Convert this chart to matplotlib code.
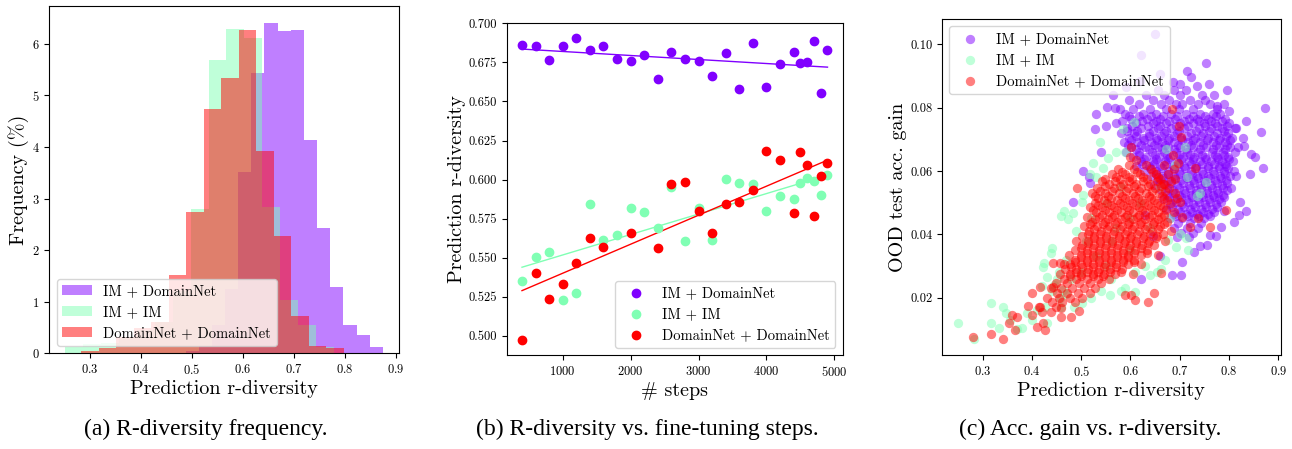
import numpy as np
import matplotlib.pyplot as plt

plt.rcParams['font.family'] = 'cmr10'
plt.rcParams['mathtext.fontset'] = 'cm'
plt.rcParams['axes.unicode_minus'] = False
plt.rcParams['axes.formatter.use_mathtext'] = True

C_IMDN = '#8000ff'
C_IMIM = '#80ffb4'
C_DNDN = '#ff0000'
labels = ['IM + DomainNet', 'IM + IM', 'DomainNet + DomainNet']

# (a) histograms, density per bin (15 bins each, own range)
hist_range_imdn = (0.487, 0.874)
hist_imdn = [0.05, 0.15, 0.55, 1.25, 3.52, 5.44, 6.41, 6.24, 6.26, 4.14, 2.43, 1.29, 0.55, 0.36, 0.12]
hist_range_imim = (0.251, 0.778)
hist_imim = [0.13, 0.19, 0.20, 0.30, 0.45, 0.61, 1.20, 2.80, 5.68, 6.28, 6.12, 2.83, 1.04, 0.55, 0.13]
hist_range_dndn = (0.283, 0.797)
hist_dndn = [0.05, 0.10, 0.32, 0.49, 0.61, 1.52, 2.74, 4.74, 5.33, 6.26, 3.92, 2.28, 0.72, 0.14, 0.10]

# (b) r-diversity vs fine-tuning steps
steps = [400, 600, 800, 1000, 1200, 1400, 1600, 1800, 2000, 2200, 2400, 2600, 2800,
         3000, 3200, 3400, 3600, 3800, 4000, 4200, 4400, 4500, 4600, 4700, 4800, 4900]
div_imdn = [0.6861, 0.6857, 0.6765, 0.6853, 0.6908, 0.6831, 0.6857, 0.6770, 0.6761, 0.6797,
            0.6646, 0.6814, 0.6774, 0.6759, 0.6665, 0.6810, 0.6580, 0.6876, 0.6595, 0.6738,
            0.6816, 0.6744, 0.6750, 0.6887, 0.6554, 0.6829]
div_imim = [0.5350, 0.5504, 0.5538, 0.5227, 0.5272, 0.5841, 0.5613, 0.5647, 0.5820, 0.5790,
            0.5690, 0.5950, 0.5609, 0.5818, 0.5613, 0.6006, 0.5976, 0.5971, 0.5796, 0.5897,
            0.5878, 0.5978, 0.6012, 0.5991, 0.5899, 0.6029]
steps_dndn = [400, 600, 800, 1000, 1200, 1400, 1600, 2000, 2400, 2600, 2800, 3000, 3200,
              3400, 3600, 3800, 4000, 4200, 4400, 4500, 4600, 4700, 4800, 4900]
div_dndn = [0.4971, 0.5402, 0.5237, 0.5331, 0.5468, 0.5624, 0.5570, 0.5660, 0.5560, 0.5973,
            0.5984, 0.5800, 0.5656, 0.5844, 0.5857, 0.5931, 0.6183, 0.6123, 0.5788, 0.6176,
            0.6090, 0.5767, 0.6023, 0.6106]

# (c) OOD accuracy gain vs r-diversity, (diversity, gain)
gain_imdn = [
    (0.650, 0.1033), (0.621, 0.0966), (0.753, 0.0942), (0.722, 0.0898), (0.687, 0.0880),
    (0.736, 0.0868), (0.796, 0.0856), (0.873, 0.0800), (0.775, 0.0805), (0.866, 0.0724),
    (0.835, 0.0759), (0.869, 0.0610), (0.853, 0.0645), (0.843, 0.0589), (0.822, 0.0503),
    (0.834, 0.0475), (0.820, 0.0460), (0.783, 0.0424), (0.761, 0.0398), (0.741, 0.0363),
    (0.755, 0.0366), (0.704, 0.0313), (0.685, 0.0273), (0.702, 0.0273), (0.621, 0.0260),
    (0.530, 0.0779), (0.553, 0.0803), (0.569, 0.0800), (0.528, 0.0732), (0.550, 0.0742),
    (0.541, 0.0661), (0.504, 0.0600), (0.516, 0.0582), (0.517, 0.0561), (0.484, 0.0501),
    (0.565, 0.0840), (0.590, 0.0865), (0.620, 0.0885), (0.660, 0.0905), (0.700, 0.0875),
    (0.715, 0.0915), (0.760, 0.0875), (0.800, 0.0790), (0.815, 0.0735), (0.830, 0.0680),
    (0.845, 0.0655), (0.815, 0.0585), (0.805, 0.0545), (0.790, 0.0475), (0.810, 0.0440),
    (0.774, 0.0395), (0.730, 0.0345), (0.660, 0.0330), (0.645, 0.0395), (0.630, 0.0460),
    (0.655, 0.0855), (0.688, 0.0855), (0.712, 0.0855),
    (0.632, 0.0840), (0.668, 0.0840), (0.700, 0.0840), (0.745, 0.0840), (0.770, 0.0840),
    (0.598, 0.0825), (0.645, 0.0825), (0.678, 0.0825), (0.721, 0.0825), (0.752, 0.0825),
    (0.618, 0.0810), (0.662, 0.0810), (0.693, 0.0810), (0.705, 0.0810), (0.738, 0.0810),
    (0.761, 0.0810), (0.790, 0.0810),
    (0.578, 0.0795), (0.606, 0.0795), (0.640, 0.0795), (0.672, 0.0795), (0.699, 0.0795),
    (0.728, 0.0795), (0.776, 0.0795),
    (0.589, 0.0780), (0.625, 0.0780), (0.651, 0.0780), (0.683, 0.0780), (0.713, 0.0780),
    (0.742, 0.0780), (0.768, 0.0780), (0.782, 0.0780),
    (0.602, 0.0765), (0.633, 0.0765), (0.661, 0.0765), (0.690, 0.0765), (0.719, 0.0765),
    (0.735, 0.0765), (0.757, 0.0765), (0.792, 0.0765),
    (0.570, 0.0750), (0.612, 0.0750), (0.645, 0.0750), (0.672, 0.0750), (0.701, 0.0750),
    (0.728, 0.0750), (0.750, 0.0750), (0.772, 0.0750), (0.800, 0.0750),
    (0.594, 0.0735), (0.622, 0.0735), (0.655, 0.0735), (0.683, 0.0735), (0.709, 0.0735),
    (0.740, 0.0735), (0.763, 0.0735), (0.786, 0.0735), (0.812, 0.0735),
    (0.581, 0.0720), (0.607, 0.0720), (0.638, 0.0720), (0.668, 0.0720), (0.694, 0.0720),
    (0.722, 0.0720), (0.748, 0.0720), (0.776, 0.0720), (0.798, 0.0720),
    (0.598, 0.0705), (0.626, 0.0705), (0.651, 0.0705), (0.679, 0.0705), (0.703, 0.0705),
    (0.731, 0.0705), (0.757, 0.0705), (0.781, 0.0705), (0.806, 0.0705), (0.828, 0.0705),
    (0.586, 0.0690), (0.614, 0.0690), (0.642, 0.0690), (0.664, 0.0690), (0.689, 0.0690),
    (0.716, 0.0690), (0.742, 0.0690), (0.768, 0.0690), (0.791, 0.0690),
    (0.602, 0.0675), (0.630, 0.0675), (0.655, 0.0675), (0.677, 0.0675), (0.701, 0.0675),
    (0.726, 0.0675), (0.753, 0.0675), (0.779, 0.0675), (0.803, 0.0675), (0.819, 0.0675),
    (0.590, 0.0660), (0.618, 0.0660), (0.643, 0.0660), (0.668, 0.0660), (0.693, 0.0660),
    (0.714, 0.0660), (0.738, 0.0660), (0.765, 0.0660), (0.788, 0.0660), (0.812, 0.0660),
    (0.606, 0.0645), (0.631, 0.0645), (0.657, 0.0645), (0.681, 0.0645), (0.706, 0.0645),
    (0.729, 0.0645), (0.752, 0.0645), (0.776, 0.0645), (0.799, 0.0645),
    (0.622, 0.0630), (0.646, 0.0630), (0.671, 0.0630), (0.695, 0.0630), (0.718, 0.0630),
    (0.741, 0.0630), (0.764, 0.0630), (0.786, 0.0630), (0.808, 0.0630),
    (0.612, 0.0615), (0.637, 0.0615), (0.661, 0.0615), (0.686, 0.0615), (0.709, 0.0615),
    (0.733, 0.0615), (0.757, 0.0615), (0.779, 0.0615), (0.795, 0.0615),
    (0.628, 0.0600), (0.652, 0.0600), (0.676, 0.0600), (0.699, 0.0600), (0.722, 0.0600),
    (0.746, 0.0600), (0.768, 0.0600), (0.789, 0.0600), (0.810, 0.0600),
    (0.641, 0.0585), (0.665, 0.0585), (0.689, 0.0585), (0.713, 0.0585), (0.736, 0.0585),
    (0.758, 0.0585), (0.781, 0.0585), (0.802, 0.0585),
    (0.655, 0.0570), (0.679, 0.0570), (0.703, 0.0570), (0.727, 0.0570), (0.749, 0.0570),
    (0.772, 0.0570), (0.793, 0.0570),
    (0.647, 0.0555), (0.671, 0.0555), (0.694, 0.0555), (0.718, 0.0555), (0.741, 0.0555),
    (0.763, 0.0555), (0.785, 0.0555),
    (0.662, 0.0540), (0.686, 0.0540), (0.709, 0.0540), (0.733, 0.0540), (0.755, 0.0540),
    (0.776, 0.0540), (0.797, 0.0540),
    (0.674, 0.0525), (0.698, 0.0525), (0.722, 0.0525), (0.745, 0.0525), (0.768, 0.0525),
    (0.788, 0.0525),
    (0.667, 0.0510), (0.690, 0.0510), (0.713, 0.0510), (0.737, 0.0510), (0.759, 0.0510),
    (0.780, 0.0510),
    (0.681, 0.0495), (0.704, 0.0495), (0.728, 0.0495), (0.751, 0.0495), (0.773, 0.0495),
    (0.672, 0.0480), (0.697, 0.0480), (0.720, 0.0480), (0.744, 0.0480), (0.765, 0.0480),
    (0.689, 0.0465), (0.712, 0.0465), (0.736, 0.0465), (0.758, 0.0465),
    (0.680, 0.0450), (0.705, 0.0450), (0.729, 0.0450), (0.750, 0.0450),
    (0.696, 0.0435), (0.721, 0.0435), (0.744, 0.0435),
    (0.688, 0.0420), (0.714, 0.0420), (0.738, 0.0420),
    (0.703, 0.0405), (0.727, 0.0405), (0.695, 0.0390), (0.719, 0.0390),
    # denser middle of the cloud
    (0.597, 0.0773), (0.618, 0.0773), (0.641, 0.0773), (0.667, 0.0773), (0.694, 0.0773),
    (0.727, 0.0773), (0.751, 0.0773), (0.773, 0.0773),
    (0.583, 0.0757), (0.624, 0.0757), (0.652, 0.0757), (0.679, 0.0757), (0.708, 0.0757),
    (0.739, 0.0757), (0.764, 0.0757), (0.786, 0.0757),
    (0.603, 0.0742), (0.636, 0.0742), (0.661, 0.0742), (0.692, 0.0742), (0.716, 0.0742),
    (0.752, 0.0742), (0.776, 0.0742), (0.797, 0.0742),
    (0.592, 0.0727), (0.613, 0.0727), (0.646, 0.0727), (0.673, 0.0727), (0.699, 0.0727),
    (0.733, 0.0727), (0.759, 0.0727), (0.789, 0.0727),
    (0.611, 0.0712), (0.637, 0.0712), (0.662, 0.0712), (0.688, 0.0712), (0.715, 0.0712),
    (0.744, 0.0712), (0.769, 0.0712), (0.793, 0.0712),
    (0.602, 0.0697), (0.628, 0.0697), (0.653, 0.0697), (0.677, 0.0697), (0.704, 0.0697),
    (0.728, 0.0697), (0.755, 0.0697), (0.779, 0.0697), (0.803, 0.0697),
    (0.595, 0.0683), (0.622, 0.0683), (0.647, 0.0683), (0.671, 0.0683), (0.697, 0.0683),
    (0.722, 0.0683), (0.748, 0.0683), (0.773, 0.0683), (0.797, 0.0683),
    (0.611, 0.0668), (0.637, 0.0668), (0.664, 0.0668), (0.689, 0.0668), (0.713, 0.0668),
    (0.741, 0.0668), (0.767, 0.0668), (0.792, 0.0668),
    (0.618, 0.0652), (0.649, 0.0652), (0.674, 0.0652), (0.699, 0.0652), (0.721, 0.0652),
    (0.746, 0.0652), (0.771, 0.0652), (0.789, 0.0652),
    (0.628, 0.0637), (0.652, 0.0637), (0.677, 0.0637), (0.703, 0.0637), (0.727, 0.0637),
    (0.753, 0.0637), (0.778, 0.0637), (0.801, 0.0637),
    (0.624, 0.0622), (0.648, 0.0622), (0.673, 0.0622), (0.698, 0.0622), (0.722, 0.0622),
    (0.745, 0.0622), (0.769, 0.0622), (0.791, 0.0622),
    (0.639, 0.0608), (0.664, 0.0608), (0.688, 0.0608), (0.711, 0.0608), (0.734, 0.0608),
    (0.757, 0.0608), (0.780, 0.0608), (0.799, 0.0608),
    (0.651, 0.0592), (0.676, 0.0592), (0.701, 0.0592), (0.724, 0.0592), (0.747, 0.0592),
    (0.770, 0.0592), (0.792, 0.0592),
    (0.667, 0.0577), (0.691, 0.0577), (0.715, 0.0577), (0.738, 0.0577), (0.761, 0.0577),
    (0.784, 0.0577),
    (0.660, 0.0562), (0.683, 0.0562), (0.706, 0.0562), (0.730, 0.0562), (0.752, 0.0562),
    (0.775, 0.0562), (0.796, 0.0562),
    (0.674, 0.0547), (0.698, 0.0547), (0.721, 0.0547), (0.744, 0.0547), (0.766, 0.0547),
    (0.787, 0.0547),
    (0.686, 0.0532), (0.710, 0.0532), (0.734, 0.0532), (0.756, 0.0532), (0.778, 0.0532),
    (0.679, 0.0517), (0.702, 0.0517), (0.725, 0.0517), (0.748, 0.0517), (0.770, 0.0517),
    (0.790, 0.0517),
    (0.692, 0.0502), (0.716, 0.0502), (0.739, 0.0502), (0.762, 0.0502), (0.783, 0.0502),
    (0.685, 0.0487), (0.709, 0.0487), (0.732, 0.0487), (0.754, 0.0487), (0.776, 0.0487),
    (0.700, 0.0472), (0.724, 0.0472), (0.747, 0.0472), (0.769, 0.0472),
    (0.692, 0.0457), (0.716, 0.0457), (0.740, 0.0457), (0.761, 0.0457),
]
gain_imim = [
    (0.466, 0.0475), (0.474, 0.0447), (0.484, 0.0466), (0.460, 0.0458), (0.503, 0.0524),
    (0.501, 0.0503), (0.524, 0.0624), (0.518, 0.0592), (0.538, 0.0693), (0.589, 0.0661),
    (0.422, 0.0298), (0.424, 0.0308), (0.438, 0.0340), (0.440, 0.0356), (0.430, 0.0266),
    (0.420, 0.0237), (0.426, 0.0171), (0.457, 0.0198), (0.464, 0.0224), (0.501, 0.0182),
    (0.558, 0.0208), (0.589, 0.0232), (0.609, 0.0219), (0.639, 0.0271), (0.653, 0.0282),
    (0.663, 0.0292), (0.693, 0.0361), (0.717, 0.0352), (0.712, 0.0387), (0.676, 0.0382),
    (0.710, 0.0677), (0.673, 0.0668), (0.754, 0.0566), (0.741, 0.0531), (0.607, 0.0756),
    (0.584, 0.0732), (0.249, 0.0121), (0.282, 0.0068), (0.316, 0.0184), (0.316, 0.0121),
    (0.342, 0.0169), (0.347, 0.0150), (0.334, 0.0103), (0.379, 0.0103), (0.410, 0.0160),
    (0.520, 0.0450), (0.550, 0.0500), (0.580, 0.0550), (0.600, 0.0450), (0.560, 0.0380),
    (0.530, 0.0330), (0.500, 0.0280), (0.480, 0.0260), (0.550, 0.0300), (0.620, 0.0500),
    (0.640, 0.0420), (0.660, 0.0550), (0.600, 0.0350), (0.570, 0.0420), (0.510, 0.0380),
    (0.470, 0.0320), (0.450, 0.0260), (0.440, 0.0220), (0.460, 0.0170), (0.400, 0.0130),
    (0.430, 0.0120), (0.370, 0.0100), (0.355, 0.0130), (0.490, 0.0410), (0.545, 0.0610),
    (0.555, 0.0640), (0.570, 0.0660), (0.530, 0.0580), (0.455, 0.0280), (0.445, 0.0240),
    (0.690, 0.0620), (0.715, 0.0580), (0.735, 0.0520), (0.680, 0.0450), (0.700, 0.0400),
    (0.670, 0.0320), (0.630, 0.0300), (0.610, 0.0280), (0.580, 0.0220), (0.560, 0.0260),
    (0.540, 0.0220), (0.520, 0.0200), (0.485, 0.0170), (0.470, 0.0210), (0.390, 0.0150),
]
gain_dndn = [
    (0.685, 0.0795), (0.699, 0.0742), (0.702, 0.0708), (0.731, 0.0608), (0.687, 0.0650),
    (0.697, 0.0624), (0.793, 0.0477), (0.762, 0.0424), (0.720, 0.0424), (0.737, 0.0450),
    (0.704, 0.0456), (0.700, 0.0503), (0.690, 0.0530), (0.666, 0.0560), (0.602, 0.0677),
    (0.599, 0.0645), (0.491, 0.0547),
    (0.602, 0.0208), (0.610, 0.0194), (0.636, 0.0187), (0.648, 0.0216), (0.663, 0.0277),
    (0.589, 0.0208), (0.496, 0.0158), (0.479, 0.0138), (0.458, 0.0140), (0.458, 0.0166),
    (0.426, 0.0098), (0.422, 0.0121), (0.401, 0.0145), (0.401, 0.0216), (0.391, 0.0173),
    (0.366, 0.0098), (0.354, 0.0121), (0.359, 0.0145), (0.369, 0.0140), (0.341, 0.0068),
    (0.316, 0.0084), (0.281, 0.0077), (0.416, 0.0234), (0.410, 0.0108), (0.416, 0.0171),
    (0.442, 0.0308), (0.457, 0.0308), (0.443, 0.0234),
    (0.612, 0.0635),
    (0.598, 0.0620), (0.631, 0.0620), (0.668, 0.0620),
    (0.575, 0.0605), (0.607, 0.0605), (0.641, 0.0605), (0.688, 0.0605),
    (0.562, 0.0590), (0.589, 0.0590), (0.620, 0.0590), (0.652, 0.0590), (0.676, 0.0590),
    (0.548, 0.0575), (0.578, 0.0575), (0.604, 0.0575), (0.633, 0.0575), (0.661, 0.0575),
    (0.690, 0.0575),
    (0.556, 0.0560), (0.584, 0.0560), (0.612, 0.0560), (0.640, 0.0560), (0.668, 0.0560),
    (0.532, 0.0545), (0.566, 0.0545), (0.596, 0.0545), (0.622, 0.0545), (0.649, 0.0545),
    (0.678, 0.0545),
    (0.522, 0.0530), (0.548, 0.0530), (0.577, 0.0530), (0.605, 0.0530), (0.631, 0.0530),
    (0.657, 0.0530),
    (0.535, 0.0515), (0.561, 0.0515), (0.589, 0.0515), (0.616, 0.0515), (0.642, 0.0515),
    (0.669, 0.0515), (0.695, 0.0515),
    (0.528, 0.0500), (0.552, 0.0500), (0.578, 0.0500), (0.603, 0.0500), (0.628, 0.0500),
    (0.654, 0.0500), (0.682, 0.0500),
    (0.518, 0.0485), (0.543, 0.0485), (0.566, 0.0485), (0.592, 0.0485), (0.617, 0.0485),
    (0.641, 0.0485), (0.667, 0.0485),
    (0.530, 0.0470), (0.556, 0.0470), (0.580, 0.0470), (0.606, 0.0470), (0.630, 0.0470),
    (0.655, 0.0470), (0.688, 0.0470),
    (0.512, 0.0455), (0.537, 0.0455), (0.563, 0.0455), (0.589, 0.0455), (0.614, 0.0455),
    (0.638, 0.0455), (0.662, 0.0455),
    (0.522, 0.0440), (0.548, 0.0440), (0.573, 0.0440), (0.598, 0.0440), (0.622, 0.0440),
    (0.648, 0.0440), (0.675, 0.0440),
    (0.506, 0.0425), (0.532, 0.0425), (0.557, 0.0425), (0.583, 0.0425), (0.607, 0.0425),
    (0.633, 0.0425), (0.659, 0.0425),
    (0.515, 0.0410), (0.541, 0.0410), (0.566, 0.0410), (0.592, 0.0410), (0.618, 0.0410),
    (0.644, 0.0410), (0.682, 0.0410),
    (0.502, 0.0395), (0.526, 0.0395), (0.551, 0.0395), (0.576, 0.0395), (0.601, 0.0395),
    (0.627, 0.0395), (0.653, 0.0395),
    (0.490, 0.0380), (0.514, 0.0380), (0.538, 0.0380), (0.563, 0.0380), (0.588, 0.0380),
    (0.612, 0.0380), (0.638, 0.0380), (0.670, 0.0380),
    (0.502, 0.0365), (0.526, 0.0365), (0.550, 0.0365), (0.575, 0.0365), (0.599, 0.0365),
    (0.623, 0.0365), (0.648, 0.0365),
    (0.488, 0.0350), (0.512, 0.0350), (0.537, 0.0350), (0.561, 0.0350), (0.585, 0.0350),
    (0.610, 0.0350), (0.634, 0.0350),
    (0.476, 0.0335), (0.500, 0.0335), (0.524, 0.0335), (0.548, 0.0335), (0.572, 0.0335),
    (0.596, 0.0335), (0.621, 0.0335), (0.655, 0.0335),
    (0.488, 0.0320), (0.512, 0.0320), (0.536, 0.0320), (0.560, 0.0320), (0.584, 0.0320),
    (0.607, 0.0320),
    (0.465, 0.0305), (0.478, 0.0305), (0.500, 0.0305), (0.524, 0.0305), (0.548, 0.0305),
    (0.571, 0.0305), (0.595, 0.0305), (0.622, 0.0305),
    (0.468, 0.0290), (0.490, 0.0290), (0.513, 0.0290), (0.536, 0.0290), (0.559, 0.0290),
    (0.582, 0.0290),
    (0.456, 0.0275), (0.478, 0.0275), (0.500, 0.0275), (0.523, 0.0275), (0.546, 0.0275),
    (0.569, 0.0275), (0.605, 0.0275),
    (0.466, 0.0260), (0.489, 0.0260), (0.511, 0.0260), (0.534, 0.0260), (0.556, 0.0260),
    (0.448, 0.0245), (0.472, 0.0245), (0.495, 0.0245), (0.518, 0.0245), (0.541, 0.0245),
    (0.438, 0.0230), (0.460, 0.0230), (0.482, 0.0230), (0.505, 0.0230), (0.528, 0.0230),
    (0.450, 0.0215), (0.472, 0.0215), (0.494, 0.0215), (0.518, 0.0215),
    (0.430, 0.0200), (0.455, 0.0200), (0.478, 0.0200), (0.502, 0.0200),
    (0.440, 0.0185), (0.462, 0.0185), (0.488, 0.0185),
    (0.415, 0.0170), (0.448, 0.0170), (0.420, 0.0155), (0.438, 0.0155),
    # denser middle of the cloud
    (0.583, 0.0597), (0.613, 0.0597), (0.645, 0.0597),
    (0.570, 0.0582), (0.597, 0.0582), (0.626, 0.0582), (0.655, 0.0582),
    (0.543, 0.0567), (0.568, 0.0567), (0.597, 0.0567), (0.626, 0.0567), (0.654, 0.0567),
    (0.682, 0.0567),
    (0.548, 0.0552), (0.579, 0.0552), (0.608, 0.0552), (0.636, 0.0552), (0.662, 0.0552),
    (0.538, 0.0537), (0.562, 0.0537), (0.591, 0.0537), (0.618, 0.0537), (0.644, 0.0537),
    (0.671, 0.0537),
    (0.529, 0.0522), (0.555, 0.0522), (0.582, 0.0522), (0.610, 0.0522), (0.637, 0.0522),
    (0.664, 0.0522),
    (0.546, 0.0507), (0.572, 0.0507), (0.598, 0.0507), (0.623, 0.0507), (0.648, 0.0507),
    (0.675, 0.0507),
    (0.535, 0.0492), (0.561, 0.0492), (0.585, 0.0492), (0.611, 0.0492), (0.635, 0.0492),
    (0.661, 0.0492),
    (0.524, 0.0477), (0.548, 0.0477), (0.573, 0.0477), (0.598, 0.0477), (0.623, 0.0477),
    (0.647, 0.0477), (0.673, 0.0477),
    (0.542, 0.0462), (0.567, 0.0462), (0.592, 0.0462), (0.618, 0.0462), (0.643, 0.0462),
    (0.668, 0.0462),
    (0.529, 0.0447), (0.555, 0.0447), (0.580, 0.0447), (0.606, 0.0447), (0.630, 0.0447),
    (0.656, 0.0447),
    (0.518, 0.0432), (0.544, 0.0432), (0.569, 0.0432), (0.595, 0.0432), (0.620, 0.0432),
    (0.645, 0.0432), (0.668, 0.0432),
    (0.527, 0.0417), (0.553, 0.0417), (0.579, 0.0417), (0.604, 0.0417), (0.630, 0.0417),
    (0.656, 0.0417),
    (0.513, 0.0402), (0.539, 0.0402), (0.564, 0.0402), (0.589, 0.0402), (0.614, 0.0402),
    (0.640, 0.0402), (0.666, 0.0402),
    (0.527, 0.0387), (0.551, 0.0387), (0.576, 0.0387), (0.600, 0.0387), (0.625, 0.0387),
    (0.651, 0.0387),
    (0.513, 0.0372), (0.538, 0.0372), (0.562, 0.0372), (0.587, 0.0372), (0.611, 0.0372),
    (0.636, 0.0372),
    (0.500, 0.0357), (0.524, 0.0357), (0.549, 0.0357), (0.573, 0.0357), (0.597, 0.0357),
    (0.622, 0.0357),
    (0.512, 0.0342), (0.536, 0.0342), (0.560, 0.0342), (0.584, 0.0342), (0.608, 0.0342),
    (0.633, 0.0342),
    (0.500, 0.0327), (0.524, 0.0327), (0.548, 0.0327), (0.572, 0.0327), (0.596, 0.0327),
    (0.488, 0.0312), (0.512, 0.0312), (0.536, 0.0312), (0.560, 0.0312), (0.584, 0.0312),
    (0.608, 0.0312),
    (0.479, 0.0297), (0.501, 0.0297), (0.524, 0.0297), (0.547, 0.0297), (0.571, 0.0297),
    (0.489, 0.0282), (0.511, 0.0282), (0.534, 0.0282), (0.558, 0.0282), (0.581, 0.0282),
    (0.477, 0.0267), (0.500, 0.0267), (0.523, 0.0267), (0.545, 0.0267),
]
captions = ['(a) R-diversity frequency.', '(b) R-diversity vs. fine-tuning steps.',
            '(c) Acc. gain vs. r-diversity.']
caption_x = [206, 647, 1090]

colors = [C_IMDN, C_IMIM, C_DNDN]

fig = plt.figure(figsize=(12.92, 4.49), dpi=100)
ax_a = fig.add_axes([0.0382, 0.2131, 0.2704, 0.7735])
ax_b = fig.add_axes([0.3922, 0.2087, 0.2601, 0.7408])
ax_c = fig.add_axes([0.7291, 0.2087, 0.2621, 0.7490])

# ---- (a)
for rng, h, col, lab in zip([hist_range_imdn, hist_range_imim, hist_range_dndn],
                            [hist_imdn, hist_imim, hist_dndn], colors, labels):
    edges = np.linspace(rng[0], rng[1], len(h) + 1)
    ax_a.bar(edges[:-1], h, width=np.diff(edges), align='edge', color=col, alpha=0.5,
             label=lab)
ax_a.set_xlim(0.22, 0.905)
ax_a.set_xticks([0.3, 0.4, 0.5, 0.6, 0.7, 0.8, 0.9])
ax_a.set_yticks([0, 1, 2, 3, 4, 5, 6])
ax_a.set_xlabel('Prediction r-diversity', fontsize=14.5, labelpad=2)
ax_a.set_ylabel('Frequency (%)', fontsize=14.5, labelpad=2)
ax_a.legend(loc='lower left', fontsize=10.5)

# ---- (b)
for xs, ys, col, lab in zip([steps, steps, steps_dndn], [div_imdn, div_imim, div_dndn],
                            colors, labels):
    ax_b.scatter(xs, ys, s=36, color=col, label=lab, zorder=3)
    k, b = np.polyfit(xs, ys, 1)
    xx = np.array([min(xs), max(xs)])
    ax_b.plot(xx, k * xx + b, color=col, lw=1)
ax_b.set_xticks([1000, 2000, 3000, 4000, 5000])
ax_b.set_yticks(np.arange(0.5, 0.7001, 0.025))
ax_b.yaxis.set_major_formatter(plt.FormatStrFormatter('%.3f'))
ax_b.set_xlabel('# steps', fontsize=14.5, labelpad=2)
ax_b.set_ylabel('Prediction r-diversity', fontsize=14.5, labelpad=2)
ax_b.legend(loc='lower right', fontsize=10.5)

# ---- (c)
for pts, col, lab in zip([gain_imdn, gain_imim, gain_dndn], colors, labels):
    arr = np.array(pts)
    ax_c.scatter(arr[:, 0], arr[:, 1], s=45, color=col, alpha=0.5, linewidths=0, label=lab)
ax_c.set_xlim(0.2174, 0.9049)
ax_c.set_ylim(0.0018, 0.108)
ax_c.set_xticks([0.3, 0.4, 0.5, 0.6, 0.7, 0.8, 0.9])
ax_c.set_yticks([0.02, 0.04, 0.06, 0.08, 0.10])
ax_c.yaxis.set_major_formatter(plt.FormatStrFormatter('%.2f'))
ax_c.set_xlabel('Prediction r-diversity', fontsize=14.5, labelpad=2)
ax_c.set_ylabel('OOD test acc. gain', fontsize=14.5, labelpad=2)
ax_c.legend(loc='upper left', fontsize=10.5)

for ax in (ax_a, ax_b, ax_c):
    ax.tick_params(labelsize=9)

for xc, txt in zip(caption_x, captions):
    fig.text(xc / 1292, 0.031, txt, ha='center', va='baseline', fontsize=17,
             family='Liberation Serif')

fig.savefig('out.png', dpi=100)
